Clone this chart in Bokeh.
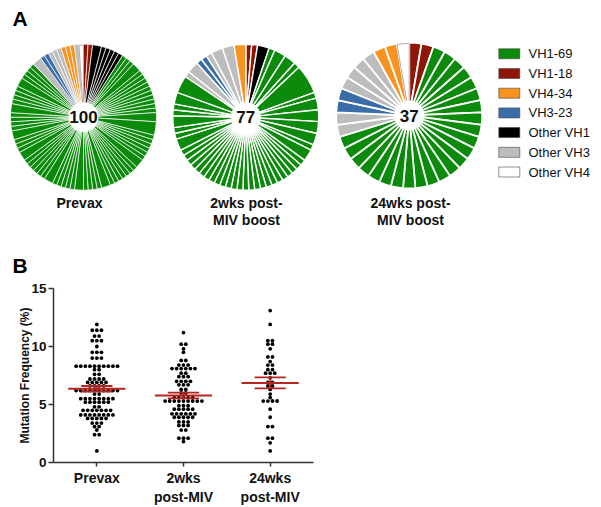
import numpy as np
from bokeh.plotting import figure
from bokeh.models import Range1d, ColumnDataSource, FixedTicker
from bokeh.embed import file_html
from bokeh.resources import INLINE
from bokeh.core.properties import value

FONT = "Liberation Sans"

# ---------------- data ----------------
legend_genes = ["VH1-69", "VH1-18", "VH4-34", "VH3-23", "Other VH1", "Other VH3", "Other VH4"]
legend_colors = ["#0b8a0b", "#8e1607", "#f7931e", "#3b6ea8", "#000000", "#bdbdbd", "#ffffff"]

pie_title_line1 = ["Prevax", "2wks post-", "24wks post-"]
pie_title_line2 = ["", "MIV boost", "MIV boost"]

# clones, clockwise from 12 o'clock
pie1_genes = (["VH1-18", "VH1-18"] + ["Other VH1"] * 6 + ["VH1-69"] * 67 +
              ["Other VH3", "VH3-23", "VH3-23", "Other VH3", "Other VH3", "Other VH3",
               "VH4-34", "VH4-34", "VH4-34", "Other VH3", "Other VH4"])
pie1_sizes = ([1, 1] + [2, 1, 1, 1, 1, 1] +
              [1, 1, 1, 2, 1, 1, 1, 1, 1, 1, 1, 1, 1, 1, 2, 3,
               1, 1, 1, 1, 1, 1, 2, 1, 1, 1, 1, 1, 1, 1, 2, 1, 1, 1, 1,
               2, 1, 1, 1, 1, 1, 2, 1, 1, 1, 1, 1, 1, 2, 1,
               1, 1, 2, 1, 1, 1, 1, 2, 1, 1, 1, 1, 2, 1, 1, 1, 1] +
              [2, 1, 1, 1, 1, 1, 1, 1, 1, 1, 1])

pie2_genes = (["VH1-18", "VH1-18", "Other VH1"] + ["VH1-69"] * 45 +
              ["Other VH3", "Other VH3", "VH3-23", "VH3-23", "Other VH3", "Other VH3",
               "Other VH3", "VH4-34"])
pie2_sizes = ([1, 1, 2] +
              [1, 2, 2, 1, 5, 1, 2, 2, 2, 2, 1, 2] + [1] * 24 + [1, 2, 1, 1, 2, 1, 1, 2, 3] +
              [1, 2, 1, 1, 1, 2, 2, 2])

pie3_genes = (["VH1-18", "VH1-18"] + ["VH1-69"] * 24 + ["Other VH3"] * 2 + ["VH3-23"] * 2 +
              ["Other VH3"] * 4 + ["VH4-34"] * 2 + ["Other VH4"])
pie3_sizes = [1] * 37

groups = ["Prevax", "2wks\npost-MIV", "24wks\npost-MIV"]
prevax = [11.9, 11.4, 11.4, 11.4, 10.9, 10.9, 10.5, 10.5, 10.5, 10.0,
          9.5, 9.5, 9.5, 9.0, 9.0, 9.0,
          8.3, 8.3, 8.3, 8.3, 8.3, 8.3, 8.3, 8.3, 8.3, 8.3, 8.0, 8.0,
          7.6, 7.6, 7.2, 7.2, 7.2, 7.2, 6.9, 6.9, 6.9, 6.9, 6.9, 6.6, 6.6, 6.6, 6.6,
          6.2, 6.2, 6.2, 6.2, 6.2, 6.2, 6.2, 6.2, 6.2, 6.2, 5.9, 5.9,
          5.5, 5.5, 5.5, 5.5, 5.5, 5.5, 5.5, 5.5, 5.2, 5.2, 5.2, 5.2, 5.2, 5.2,
          4.8, 4.8, 4.5, 4.5, 4.5, 4.5, 4.5, 4.5, 4.5,
          4.1, 4.1, 4.1, 4.1, 4.1, 4.1, 4.1, 4.1, 3.8, 3.8, 3.8, 3.8, 3.8,
          3.4, 3.4, 3.4, 3.1, 3.1, 2.8, 2.4, 2.4, 1.0]
wk2 = [11.2, 10.2, 10.2, 9.8, 9.5, 8.8, 8.8, 8.4, 8.4, 8.4,
       8.1, 8.1, 8.1, 8.1, 8.1, 8.1, 7.7, 7.7, 7.4, 7.4, 7.4,
       7.0, 7.0, 7.0, 7.0, 6.7, 6.7, 6.7, 6.3, 6.3, 6.0, 6.0,
       5.6, 5.6, 5.6, 5.6, 5.6, 5.3, 5.3, 5.3, 5.3, 5.3, 5.3, 5.3, 5.3, 5.3,
       4.9, 4.9, 4.9, 4.6, 4.6, 4.6, 4.6, 4.6, 4.2, 4.2, 4.2, 4.2, 4.2, 4.2,
       3.9, 3.9, 3.9, 3.9, 3.9, 3.5, 3.5, 3.5, 3.2, 3.2, 3.2, 2.8, 2.8,
       2.1, 2.1, 2.1, 1.8]
wk24 = [13.1, 11.9, 10.5, 10.5, 10.2, 10.2, 9.8, 9.1, 9.1, 8.7, 8.4, 8.4,
        8.0, 8.0, 7.7, 7.7, 7.7, 7.3, 6.9, 6.9, 6.6, 6.6, 6.3, 5.9, 5.6,
        5.3, 5.3, 5.3, 5.3, 4.6, 3.9, 3.1, 3.1, 2.1, 2.1, 1.7, 1.0]
y_ticks = [0, 5, 10, 15]

# ---------------- panel A (page y 0..276) ----------------
color_of = dict(zip(legend_genes, legend_colors))
HA = 276
pA = figure(width=595, height=HA, x_range=Range1d(0, 595), y_range=Range1d(0, HA),
            output_backend="svg", toolbar_location=None, min_border=0,
            x_axis_location=None, y_axis_location=None)
pA.grid.visible = False
pA.outline_line_color = None

pie_centers = [(83, 159.3), (245.3, 159.3), (408.7, 161)]
R = 73
pies = [(pie1_genes, pie1_sizes, 0.7), (pie2_genes, pie2_sizes, 1.4), (pie3_genes, pie3_sizes, 1.8)]
for (genes, sizes, lw), (cx, cy) in zip(pies, pie_centers):
    sizes = np.array(sizes, float)
    tot = sizes.sum()
    cum = np.concatenate([[0.0], np.cumsum(sizes)])
    start = np.pi / 2 - cum[:-1] / tot * 2 * np.pi
    end = np.pi / 2 - cum[1:] / tot * 2 * np.pi
    cols = [color_of[g] for g in genes]
    src = ColumnDataSource(dict(x=[cx] * len(sizes), y=[cy] * len(sizes),
                                start=start, end=end, color=cols))
    pA.wedge(x="x", y="y", radius=R, start_angle="start", end_angle="end",
             direction="clock", fill_color="color", line_color="white",
             line_width=lw, source=src)
    wmask = np.array([g == "Other VH4" for g in genes])
    if wmask.any():
        wsrc = ColumnDataSource(dict(x=[cx] * int(wmask.sum()), y=[cy] * int(wmask.sum()),
                                     start=start[wmask], end=end[wmask]))
        pA.wedge(x="x", y="y", radius=R - 1, start_angle="start", end_angle="end",
                 direction="clock", fill_color=None, line_color="#8a8a8a",
                 line_width=0.7, source=wsrc)
    pA.circle(x=[cx], y=[cy], radius=15, fill_color="white", line_color=None)
    pA.text(x=[cx], y=[cy], text=[str(int(tot))], text_align="center",
            text_baseline="middle", text_font=value(FONT), text_font_style="bold",
            text_font_size="17px", text_color="#111111")

title_x = [79, 246, 410]
pA.text(x=title_x, y=[74] * 3, text=pie_title_line1, text_align="center",
        text_baseline="middle", text_font=value(FONT), text_font_style="bold",
        text_font_size="14px", text_color="#111111")
pA.text(x=title_x, y=[57] * 3, text=pie_title_line2, text_align="center",
        text_baseline="middle", text_font=value(FONT), text_font_style="bold",
        text_font_size="14px", text_color="#111111")

leg_y = 222.7 - 19.7 * np.arange(len(legend_genes))
pA.rect(x=[508.8] * len(legend_genes), y=leg_y, width=21, height=10,
        fill_color=legend_colors, line_color="#444444", line_width=0.6)
pA.text(x=[528] * len(legend_genes), y=leg_y, text=legend_genes, text_baseline="middle",
        text_font=value(FONT), text_font_size="13px", text_color="#111111")

pA.text(x=[12, 12], y=[258.5, 11], text=["A", "B"], text_baseline="middle",
        text_font=value(FONT), text_font_style="bold", text_font_size="21px",
        text_color="#000000")

# ---------------- panel B (page y 276..507) ----------------
pB = figure(width=340, height=231, x_range=Range1d(0.5, 3.5), y_range=Range1d(0, 15),
            output_backend="svg", toolbar_location=None,
            min_border_left=53, min_border_right=27, min_border_top=12, min_border_bottom=45)
pB.grid.visible = False
pB.outline_line_color = None

step = 4.6 / (260 / 3.0)
red = "#b5261e"
for gi, vals in enumerate([prevax, wk2, wk24]):
    c = gi + 1
    v = np.array(vals, float)
    xs = np.empty(len(v))
    for lvl in np.unique(v):
        idx = np.where(v == lvl)[0]
        n = len(idx)
        xs[idx] = c + (np.arange(n) - (n - 1) / 2.0) * step
    pB.scatter(x=xs, y=v, size=3.8, fill_color="black", line_color=None)
    m = v.mean()
    sem = v.std(ddof=1) / np.sqrt(len(v))
    pB.segment(x0=[c - 0.33], y0=[m], x1=[c + 0.33], y1=[m], line_color=red, line_width=2)
    pB.segment(x0=[c - 0.18, c - 0.18, c], y0=[m + sem, m - sem, m - sem],
               x1=[c + 0.18, c + 0.18, c], y1=[m + sem, m - sem, m + sem],
               line_color=red, line_width=1.8)

axis_col = "#333333"
for ax in [pB.xaxis[0], pB.yaxis[0]]:
    ax.axis_line_color = axis_col
    ax.axis_line_width = 1.5
    ax.major_tick_line_color = axis_col
    ax.major_tick_line_width = 1.5
    ax.major_tick_in = 0
    ax.minor_tick_line_color = None
    ax.major_label_text_font = FONT
    ax.major_label_text_font_style = "bold"
    ax.major_label_text_color = "#111111"

pB.xaxis.ticker = FixedTicker(ticks=[1, 2, 3])
pB.xaxis.major_label_overrides = {1: groups[0], 2: groups[1], 3: groups[2]}
pB.xaxis.major_tick_out = 4
pB.xaxis.major_label_standoff = 3
pB.xaxis.major_label_text_font_size = "14px"
pB.xaxis.major_label_text_line_height = 1.2

pB.yaxis.ticker = FixedTicker(ticks=y_ticks)
pB.yaxis.major_tick_out = 5
pB.yaxis.major_label_standoff = 2
pB.yaxis.major_label_text_font_size = "13.5px"
pB.yaxis.axis_label = "Mutation Frequency (%)"
pB.yaxis.axis_label_text_font = FONT
pB.yaxis.axis_label_text_font_style = "bold"
pB.yaxis.axis_label_text_font_size = "12px"
pB.yaxis.axis_label_text_color = "#111111"
pB.yaxis.axis_label_standoff = -4

open("out.html", "w").write(file_html([pA, pB], INLINE))
